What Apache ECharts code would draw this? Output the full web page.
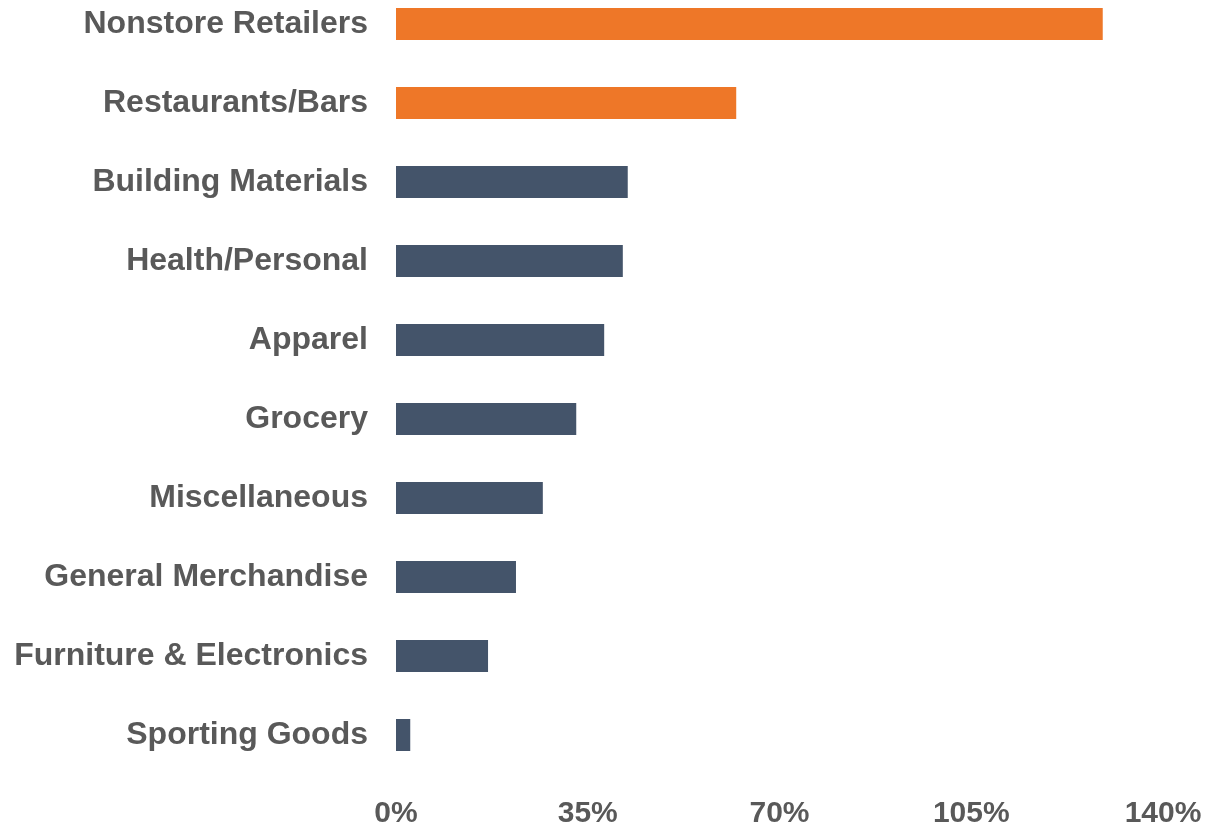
<!DOCTYPE html>
<html><head><meta charset="utf-8">
<script src="https://cdn.jsdelivr.net/npm/echarts@6/dist/echarts.min.js"></script>
<style>html,body{margin:0;padding:0;background:#fff}#c{width:1210px;height:827px}</style>
</head><body><div id="c"></div>
<script>
const categories = ["Nonstore Retailers","Restaurants/Bars","Building Materials","Health/Personal","Apparel","Grocery","Miscellaneous","General Merchandise","Furniture & Electronics","Sporting Goods"];
const values = [129.0, 62.1, 42.3, 41.4, 38.0, 32.9, 26.8, 21.9, 16.8, 2.6];
const highlighted = ["Nonstore Retailers","Restaurants/Bars"];
const tickValues = [0, 35, 70, 105, 140];

const chart = echarts.init(document.getElementById('c'));
chart.setOption({
  animation: false,
  grid: {left: 396, right: 47, top: -15.5, bottom: 52.5, outerBoundsMode: 'none', containLabel: false},
  xAxis: {
    type: 'value', min: tickValues[0], max: tickValues[tickValues.length-1], interval: 35,
    axisLine: {show: false}, axisTick: {show: false}, splitLine: {show: false},
    axisLabel: {formatter: '{value}%', color: '#595959', fontFamily: 'Liberation Sans, Arial', fontWeight: 'bold', fontSize: 30, margin: 24}
  },
  yAxis: {
    type: 'category', data: categories, inverse: true,
    axisLine: {show: false}, axisTick: {show: false},
    axisLabel: {color: '#595959', fontFamily: 'Liberation Sans, Arial', fontWeight: 'bold', fontSize: 32, margin: 28, padding: [3, 0, 0, 0]}
  },
  series: [{
    type: 'bar', barWidth: 32,
    data: values.map((v, i) => ({value: v, itemStyle: {color: highlighted.includes(categories[i]) ? '#EE7728' : '#44546A'}}))
  }]
});
</script></body></html>
